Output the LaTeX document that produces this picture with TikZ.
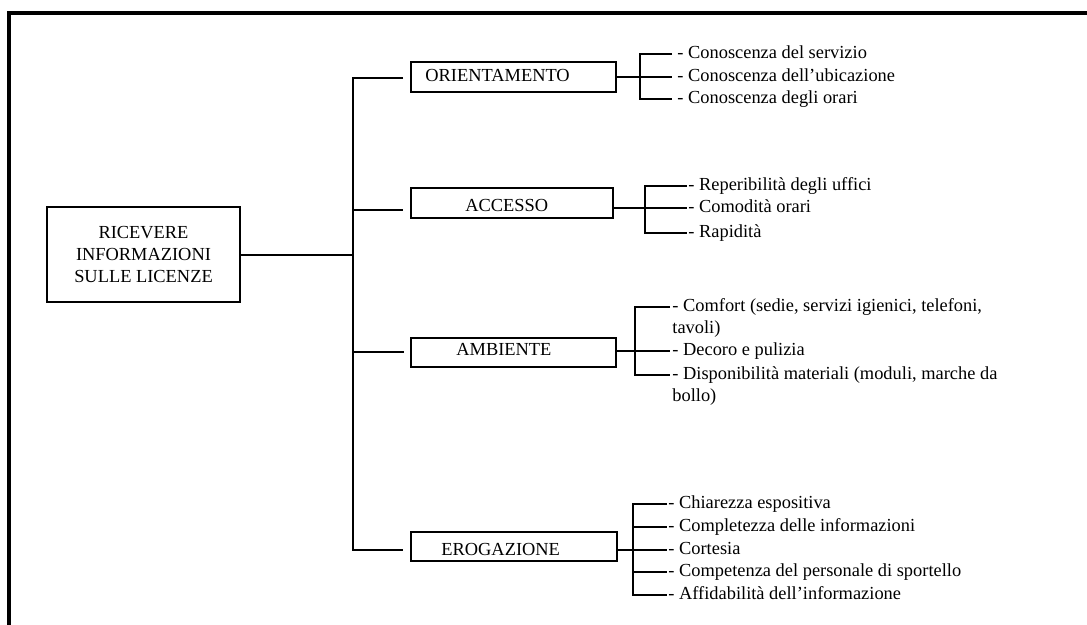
\documentclass[tikz,border=0pt]{standalone}
\usepackage{fontspec}
\setmainfont{Liberation Serif}
\begin{document}
\begin{tikzpicture}[x=0.5pt,y=-0.5pt,
  txt/.style={font=\fontsize{9.2pt}{11pt}\selectfont, inner sep=0pt},
  item/.style={txt, anchor=base west, align=left},
  catbox/.style={draw, line width=1pt, inner sep=0pt, minimum width=102.5pt, minimum height=15pt},
  wire/.style={line width=1pt},
  frame/.style={line width=2pt, line join=miter}]
\useasboundingbox (0,0) rectangle (1087,625);

% outer frame (top and left edges)
\draw[frame] (9,625) -- (9,13) -- (1087,13);

% root box
\node[draw, line width=1pt, minimum width=96.5pt, minimum height=47.5pt,
      align=center, font=\fontsize{9.2pt}{11pt}\selectfont, inner sep=0pt]
      (root) at (143.5,254.5) {RICEVERE\\INFORMAZIONI\\SULLE LICENZE};

% category boxes
\node[catbox] (ori) at (513.5,77) {};
\node[catbox, minimum width=101pt] (acc) at (512,203) {};
\node[catbox, minimum height=14.5pt] (amb) at (513.5,352.5) {};
\node[catbox, minimum width=103pt, minimum height=14.5pt] (ero) at (514,546.5) {};

\node[item] (orit) at (425,81.7) {ORIENTAMENTO};
\node[item] (acct) at (465,212) {ACCESSO};
\node[item] (ambt) at (456,356) {AMBIENTE};
\node[item] (erot) at (441,555) {EROGAZIONE};

% trunk
\coordinate (trk) at (353,255);
\coordinate (ttop) at (353,78);
\coordinate (tacc) at (353,210);
\coordinate (tamb) at (353,352);
\coordinate (tbot) at (353,550);
\draw[wire] (root.east |- trk) -- (trk);
\draw[wire, shorten >=3.5pt, shorten <=3.5pt] (ttop -| ori.west) -- (ttop) -- (tbot) -- (tbot -| ero.west);
\draw[wire, shorten >=3.5pt] (tacc) -- (tacc -| acc.west);
\draw[wire, shorten >=3pt] (tamb) -- (tamb -| amb.west);

% ORIENTAMENTO items
\node[item] (o1) at (677,58.5) {- Conoscenza del servizio};
\node[item] (o2) at (677,82) {- Conoscenza dell’ubicazione};
\node[item] (o3) at (677,103.5) {- Conoscenza degli orari};
\coordinate (o1e) at ([shift={(-5,-4.5)}]o1.base west);
\coordinate (o2e) at ([shift={(-5,-4.5)}]o2.base west);
\coordinate (o3e) at ([shift={(-5,-4.5)}]o3.base west);
\coordinate (obk) at (640,99);
\draw[wire] (o1e) -| (obk) -- (o3e);
\draw[wire] (ori.east |- o2e) -- (o2e);

% ACCESSO items
\node[item] (a1) at (688,190.5) {- Reperibilità degli uffici};
\node[item] (a2) at (688,212.5) {- Comodità orari};
\node[item] (a3) at (688,237.5) {- Rapidità};
\coordinate (a1e) at ([shift={(-1,-4.5)}]a1.base west);
\coordinate (a2e) at ([shift={(-1,-4.5)}]a2.base west);
\coordinate (a3e) at ([shift={(-1,-4.5)}]a3.base west);
\coordinate (abk) at (645,233);
\draw[wire] (a1e) -| (abk) -- (a3e);
\draw[wire] (acc.east |- a2e) -- (a2e);

% AMBIENTE items (two-line items: base anchor sits on the last line)
\node[item] (m1) at (672,333.5) {- Comfort (sedie, servizi igienici, telefoni,\\tavoli)};
\node[item] (m2) at (672,355.5) {- Decoro e pulizia};
\node[item] (m3) at (672,401.5) {- Disponibilità materiali (moduli, marche da\\bollo)};
\coordinate (m1e) at ([shift={(-2,-26.5)}]m1.base west);
\coordinate (m2e) at ([shift={(-2,-4.5)}]m2.base west);
\coordinate (m3e) at ([shift={(-2,-26.5)}]m3.base west);
\coordinate (mbk) at (635,375);
\draw[wire] (m1e) -| (mbk) -- (m3e);
\draw[wire] (amb.east |- m2e) -- (m2e);

% EROGAZIONE items
\node[item] (e1) at (668,508.5) {- Chiarezza espositiva};
\node[item] (e2) at (668,531.5) {- Completezza delle informazioni};
\node[item] (e3) at (668,554.5) {- Cortesia};
\node[item] (e4) at (668,576.5) {- Competenza del personale di sportello};
\node[item] (e5) at (668,599.5) {- Affidabilità dell’informazione};
\coordinate (e1e) at ([shift={(-1,-4.5)}]e1.base west);
\coordinate (e2e) at ([shift={(-1,-4.5)}]e2.base west);
\coordinate (e3e) at ([shift={(-1,-4.5)}]e3.base west);
\coordinate (e4e) at ([shift={(-1,-4.5)}]e4.base west);
\coordinate (e5e) at ([shift={(-1,-4.5)}]e5.base west);
\coordinate (ebk) at (633,595);
\draw[wire] (e1e) -| (ebk) -- (e5e);
\draw[wire] (ebk |- e2e) -- (e2e);
\draw[wire] (ero.east |- e3e) -- (e3e);
\draw[wire] (ebk |- e4e) -- (e4e);
\end{tikzpicture}
\end{document}
